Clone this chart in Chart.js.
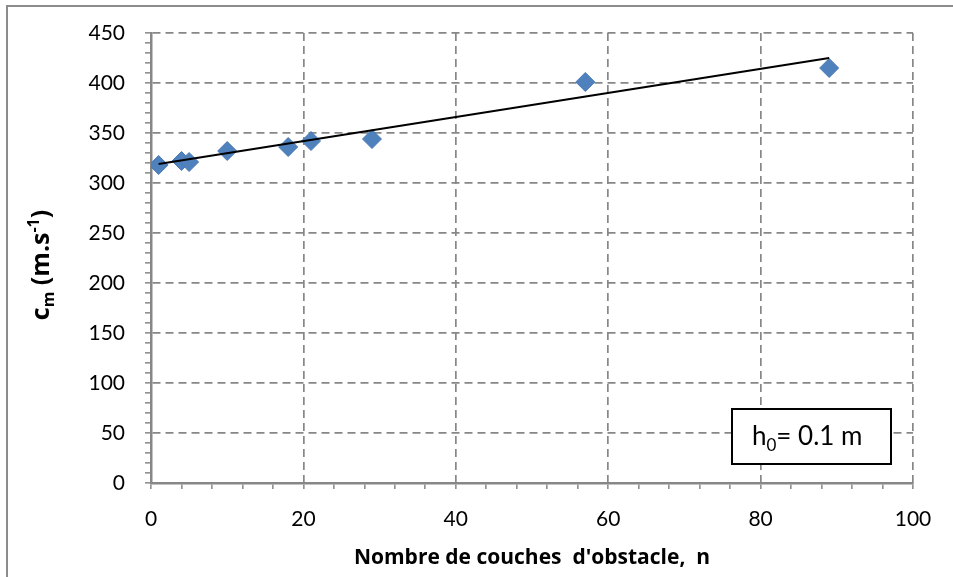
<!DOCTYPE html>
<html>
<head>
<meta charset="utf-8">
<script src="https://cdn.jsdelivr.net/npm/chart.js@4.4.1/dist/chart.umd.min.js"></script>
<style>
  html, body { margin: 0; padding: 0; background: #fff; }
  .wrap { position: relative; width: 953px; height: 577px; }
</style>
</head>
<body>
<div class="wrap"><canvas id="chart"></canvas></div>
<script>
// measured points: number of obstacle layers n vs cm
const layers = [1, 4, 5, 10, 18, 21, 29, 57, 89];
const speeds = [318, 322, 321, 332, 336, 342, 344, 401, 415];

// linear trend line ends
const trendX = [1, 89];
const trendY = [319, 425];

const xTitle = "Nombre de couches  d'obstacle,  n";

const gridGray = '#878787';
const fontName = 'Lato, "Open Sans", sans-serif';
const titleFont = '"Open Sans", Lato, sans-serif';

// outer frame, y-axis title with sub/superscript, h0 box
const extras = {
    id: 'extras',
    beforeDraw(chart) {
        const ctx = chart.ctx;
        ctx.save();
        ctx.strokeStyle = '#8c8c8c';
        ctx.lineWidth = 2;
        ctx.strokeRect(7, 6, 1200, 1200);
        ctx.restore();
    },
    afterDraw(chart) {
        const ctx = chart.ctx;
        const area = chart.chartArea;

        // y title
        ctx.save();
        ctx.translate(49, (area.top + area.bottom) / 2 + 7);
        ctx.rotate(-Math.PI / 2);
        ctx.fillStyle = '#000';
        ctx.textBaseline = 'alphabetic';
        const big = 'bold 25px ' + titleFont;
        const small = 'bold 16px ' + titleFont;
        const parts = [
            ['c', big, 0],
            ['m', small, 5],
            [' (m.s', big, 0],
            ['-1', small, -10],
            [')', big, 0]
        ];
        let total = 0;
        parts.forEach(p => { ctx.font = p[1]; total += ctx.measureText(p[0]).width; });
        let x = -total / 2;
        parts.forEach(p => {
            ctx.font = p[1];
            ctx.fillText(p[0], x, p[2]);
            x += ctx.measureText(p[0]).width;
        });
        ctx.restore();

        // h0 box
        const bx = 732, by = 409, bw = 159, bh = 55;
        ctx.save();
        ctx.fillStyle = '#fff';
        ctx.fillRect(bx, by, bw, bh);
        ctx.strokeStyle = '#000';
        ctx.lineWidth = 2;
        ctx.strokeRect(bx, by, bw, bh);
        ctx.fillStyle = '#000';
        ctx.textBaseline = 'alphabetic';
        let tx = bx + 20;
        const base = by + 36;
        ctx.font = '26px ' + fontName;
        ctx.fillText('h', tx, base);
        tx += ctx.measureText('h').width;
        ctx.font = '17px ' + fontName;
        ctx.fillText('0', tx, base + 6);
        tx += ctx.measureText('0').width;
        ctx.font = '26px ' + fontName;
        ctx.fillText('= 0.1 m', tx, base);
        ctx.restore();
    }
};

const ctx = document.getElementById('chart');

new Chart(ctx, {
    data: {
        datasets: [
            {
                type: 'scatter',
                label: 'cm',
                data: layers.map((n, i) => ({ x: n, y: speeds[i] })),
                pointStyle: 'rectRot',
                pointRadius: 9.5,
                pointHoverRadius: 9.5,
                backgroundColor: '#4f81bd',
                borderColor: '#4a7ab5',
                borderWidth: 1,
                order: 2
            },
            {
                type: 'line',
                label: 'trend',
                data: trendX.map((n, i) => ({ x: n, y: trendY[i] })),
                borderColor: '#000',
                borderWidth: 2,
                pointRadius: 0,
                fill: false,
                order: 1
            }
        ]
    },
    options: {
        responsive: true,
        maintainAspectRatio: false,
        animation: false,
        layout: { padding: { left: 0, top: 33, right: 40, bottom: 0 } },
        plugins: {
            legend: { display: false },
            tooltip: { enabled: false }
        },
        scales: {
            x: {
                type: 'linear',
                min: 0,
                max: 100,
                afterFit(scale) { scale.height = 94; },
                ticks: {
                    stepSize: 4,
                    autoSkip: false,
                    maxRotation: 0,
                    padding: 18,
                    color: '#000',
                    font: { family: fontName, size: 21 },
                    callback: v => (v % 20 === 0 ? v : '')
                },
                grid: {
                    color: c => (c.tick && c.tick.value % 20 === 0 && c.tick.value !== 0 ? gridGray : 'rgba(0,0,0,0)'),
                    lineWidth: 1.7,
                    drawTicks: true,
                    tickLength: 6,
                    tickColor: gridGray,
                    tickWidth: 1.5,
                    tickBorderDash: []
                },
                border: { color: gridGray, width: 2.5, dash: [8, 5] },
                title: {
                    display: true,
                    text: xTitle,
                    color: '#000',
                    font: { family: titleFont, size: 21, weight: 'bold' },
                    padding: { top: 0, bottom: 6 }
                }
            },
            y: {
                type: 'linear',
                min: 0,
                max: 450,
                afterFit(scale) { scale.width = 151; },
                ticks: {
                    stepSize: 10,
                    autoSkip: false,
                    padding: 20,
                    color: '#000',
                    font: { family: fontName, size: 21 },
                    callback: v => (v % 50 === 0 ? v : '')
                },
                grid: {
                    color: c => (c.tick && c.tick.value % 50 === 0 && c.tick.value !== 0 ? gridGray : 'rgba(0,0,0,0)'),
                    lineWidth: 1.7,
                    drawTicks: true,
                    tickLength: 6,
                    tickColor: gridGray,
                    tickWidth: 1.5,
                    tickBorderDash: []
                },
                border: { color: gridGray, width: 2.5, dash: [8, 5] }
            }
        }
    },
    plugins: [extras]
});
</script>
</body>
</html>
